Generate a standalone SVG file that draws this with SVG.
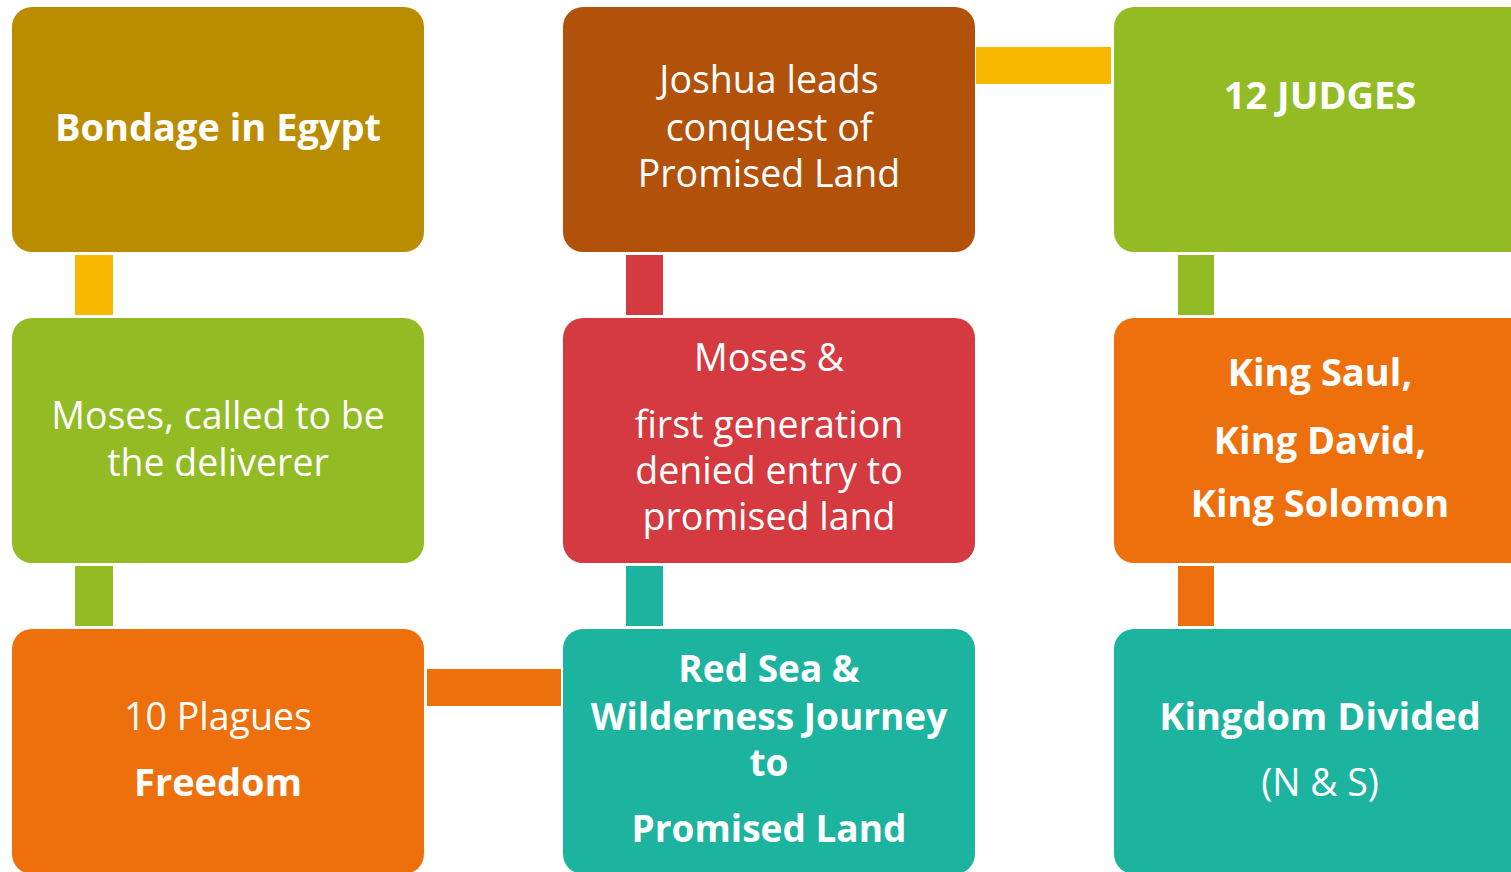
<svg xmlns="http://www.w3.org/2000/svg" width="1511" height="872" viewBox="0 0 1511 872">
<style>
.t{font-family:"Open Sans","Noto Sans","Liberation Sans",sans-serif;font-size:37.5px;fill:#ffffff;text-anchor:middle;}
.b{font-weight:700;font-size:38px;}
.b37{font-size:37px;}
.gold{fill:#BA8C00;}
.brown{fill:#B2520A;}
.green{fill:#92BB24;}
.orange{fill:#EE700C;}
.red{fill:#D53A40;}
.teal{fill:#1CB39F;}
.yellow{fill:#F9B800;}
</style>
<rect width="1511" height="872" fill="#ffffff"/>
<g id="connectors">
<rect class="yellow" x="75" y="255" width="38" height="60"/>
<rect class="green" x="75" y="566" width="38" height="60"/>
<rect class="orange" x="427" y="669" width="134" height="37"/>
<rect class="teal" x="626" y="566" width="37" height="60"/>
<rect class="red" x="626" y="255" width="37" height="60"/>
<rect class="yellow" x="976" y="47" width="135" height="37"/>
<rect class="green" x="1178" y="255" width="36" height="60"/>
<rect class="orange" x="1178" y="566" width="36" height="60"/>
</g>
<g id="bondage">
<rect class="gold" x="12" y="7" width="412" height="245" rx="20"/>
<text class="t b" x="218" y="141">Bondage in Egypt</text>
</g>
<g id="joshua">
<rect class="brown" x="563" y="7" width="412" height="245" rx="20"/>
<text class="t" x="769" y="93">Joshua leads</text>
<text class="t" x="769" y="141">conquest of</text>
<text class="t" x="769" y="187">Promised Land</text>
</g>
<g id="judges">
<rect class="green" x="1114" y="7" width="420" height="245" rx="20"/>
<text class="t b" x="1320" y="109">12 JUDGES</text>
</g>
<g id="moses-called">
<rect class="green" x="12" y="318" width="412" height="245" rx="20"/>
<text class="t" x="218" y="429">Moses, called to be</text>
<text class="t" x="218" y="476">the deliverer</text>
</g>
<g id="moses-first">
<rect class="red" x="563" y="318" width="412" height="245" rx="20"/>
<text class="t" x="769" y="371">Moses &amp;</text>
<text class="t" x="769" y="438">first generation</text>
<text class="t" x="769" y="484">denied entry to</text>
<text class="t" x="769" y="530">promised land</text>
</g>
<g id="kings">
<rect class="orange" x="1114" y="318" width="420" height="245" rx="20"/>
<text class="t b" x="1320" y="386">King Saul,</text>
<text class="t b" x="1320" y="454">King David,</text>
<text class="t b" x="1320" y="517">King Solomon</text>
</g>
<g id="plagues">
<rect class="orange" x="12" y="629" width="412" height="245" rx="20"/>
<text class="t" x="218" y="730">10 Plagues</text>
<text class="t b" x="218" y="796">Freedom</text>
</g>
<g id="redsea">
<rect class="teal" x="563" y="629" width="412" height="245" rx="20"/>
<text class="t b b37" x="769" y="682">Red Sea &amp;</text>
<text class="t b b37" x="769" y="730">Wilderness Journey</text>
<text class="t b b37" x="769" y="776">to</text>
<text class="t b b37" x="769" y="842">Promised Land</text>
</g>
<g id="kingdom">
<rect class="teal" x="1114" y="629" width="420" height="245" rx="20"/>
<text class="t b" x="1320" y="730">Kingdom Divided</text>
<text class="t" x="1320" y="796">(N &amp; S)</text>
</g>
</svg>
